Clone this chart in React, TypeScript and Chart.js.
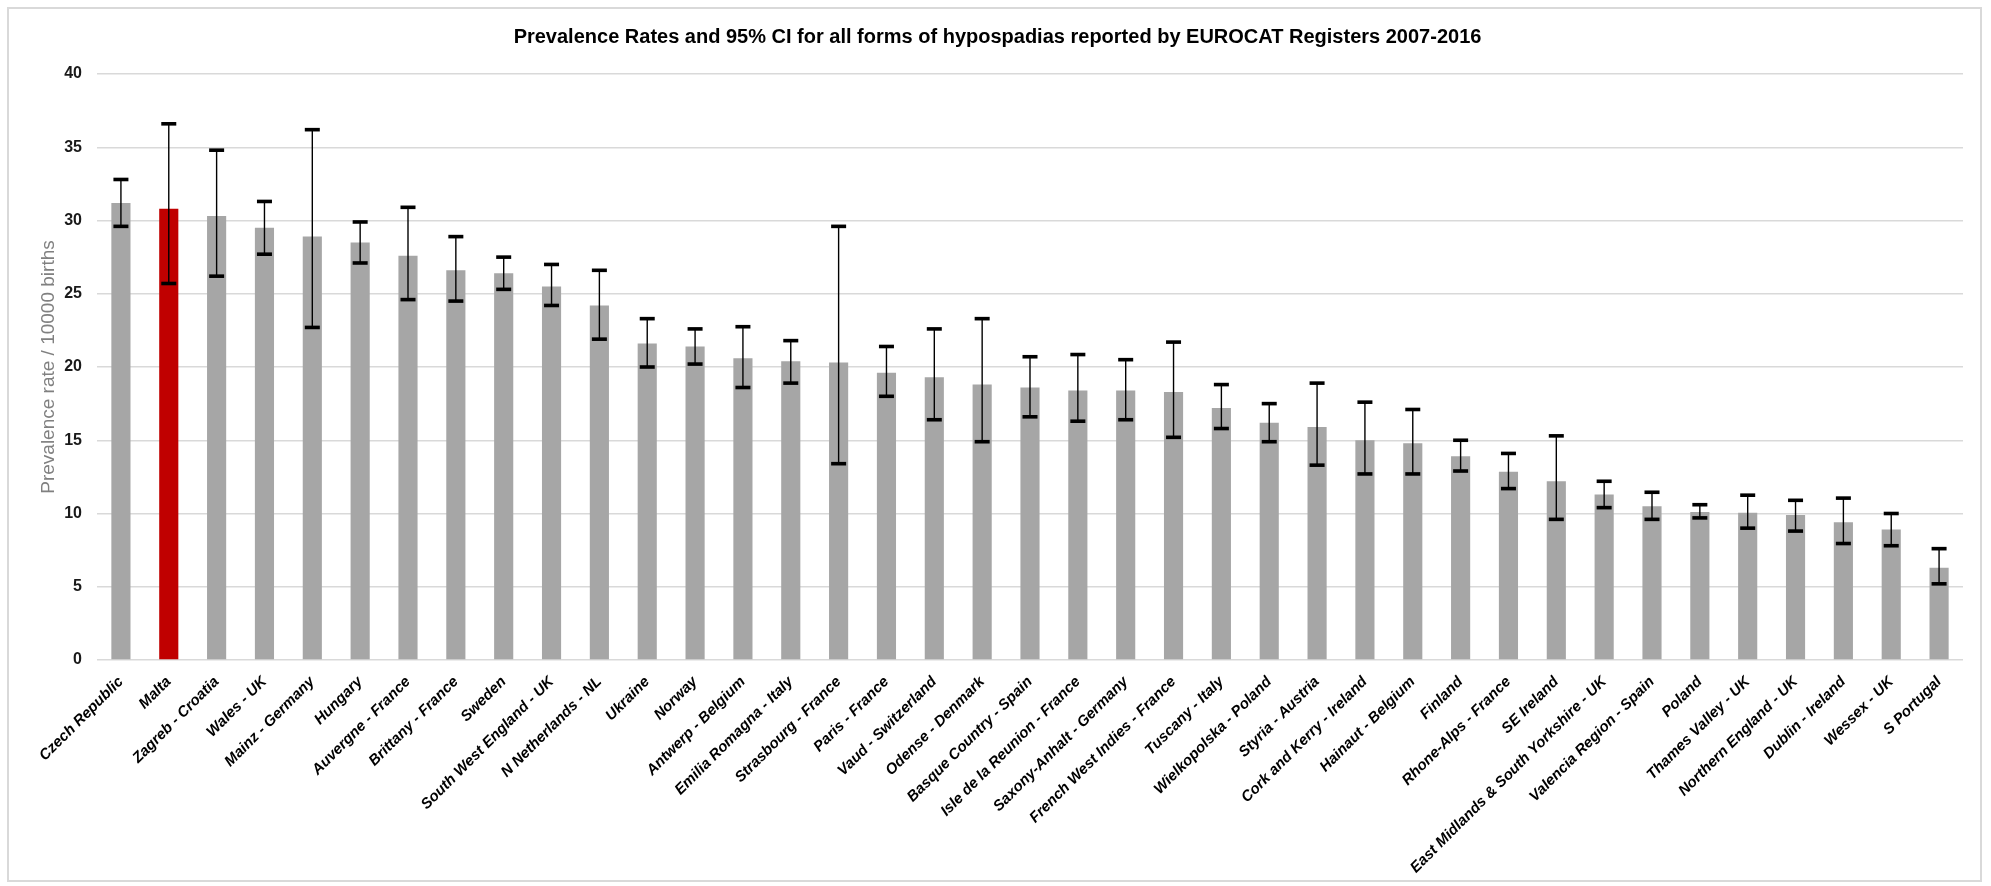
import React, { useEffect, useRef } from 'react';
import { Chart, registerables } from 'chart.js';

Chart.register(...registerables);

const chartTitle =
  'Prevalence Rates and 95% CI for all forms of hypospadias reported by EUROCAT Registers 2007-2016';
const yAxisTitle = 'Prevalence rate / 10000 births';

const categories = [
  'Czech Republic', 'Malta', 'Zagreb - Croatia', 'Wales - UK', 'Mainz - Germany', 'Hungary',
  'Auvergne - France', 'Brittany - France', 'Sweden', 'South West England - UK', 'N Netherlands - NL',
  'Ukraine', 'Norway', 'Antwerp - Belgium', 'Emilia Romagna - Italy', 'Strasbourg - France',
  'Paris - France', 'Vaud - Switzerland', 'Odense - Denmark', 'Basque Country - Spain',
  'Isle de la Reunion - France', 'Saxony-Anhalt - Germany', 'French West Indies - France',
  'Tuscany - Italy', 'Wielkopolska - Poland', 'Styria - Austria', 'Cork and Kerry - Ireland',
  'Hainaut - Belgium', 'Finland', 'Rhone-Alps - France', 'SE Ireland',
  'East Midlands & South Yorkshire - UK', 'Valencia Region - Spain', 'Poland', 'Thames Valley - UK',
  'Northern England - UK', 'Dublin - Ireland', 'Wessex - UK', 'S Portugal',
];

const rates = [
  31.2, 30.8, 30.3, 29.5, 28.9, 28.5, 27.6, 26.6, 26.4, 25.5, 24.2,
  21.6, 21.4, 20.6, 20.4, 20.3, 19.6, 19.3, 18.8, 18.6, 18.4, 18.4, 18.3,
  17.2, 16.2, 15.9, 15.0, 14.8, 13.9, 12.85, 12.2, 11.3, 10.5, 10.1, 10.05,
  9.9, 9.4, 8.9, 6.3,
];

const ciLower = [
  29.6, 25.7, 26.2, 27.7, 22.7, 27.1, 24.6, 24.5, 25.3, 24.2, 21.9,
  20.0, 20.2, 18.6, 18.9, 13.4, 18.0, 16.4, 14.9, 16.6, 16.3, 16.4, 15.2,
  15.8, 14.9, 13.3, 12.7, 12.7, 12.9, 11.7, 9.6, 10.4, 9.6, 9.7, 9.0,
  8.8, 7.95, 7.8, 5.2,
];

const ciUpper = [
  32.8, 36.6, 34.8, 31.3, 36.2, 29.9, 30.9, 28.9, 27.5, 27.0, 26.6,
  23.3, 22.6, 22.75, 21.8, 29.6, 21.4, 22.6, 23.3, 20.7, 20.85, 20.5, 21.7,
  18.8, 17.5, 18.9, 17.6, 17.1, 15.0, 14.1, 15.3, 12.2, 11.45, 10.6, 11.25,
  10.9, 11.05, 10.0, 7.6,
];

const highlighted = ['Malta'];

const FONT = "'Liberation Sans', Arial, sans-serif";

const framePlugin = {
  id: 'frame',
  beforeDraw(chart: any) {
    const { ctx, width, height } = chart;
    ctx.save();
    ctx.fillStyle = '#ffffff';
    ctx.fillRect(0, 0, width, height);
    ctx.strokeStyle = '#d9d9d9';
    ctx.lineWidth = 2;
    ctx.strokeRect(8, 8, 1973, 873);
    ctx.restore();
  },
};

const errorBarPlugin = {
  id: 'errorBars',
  afterDatasetsDraw(chart: any) {
    const { ctx } = chart;
    const x = chart.scales.x;
    const y = chart.scales.y;
    ctx.save();
    categories.forEach((_, i) => {
      const cx = x.getPixelForValue(i);
      const yl = y.getPixelForValue(ciLower[i]);
      const yh = y.getPixelForValue(ciUpper[i]);
      ctx.strokeStyle = '#000000';
      ctx.lineWidth = 1.4;
      ctx.beginPath();
      ctx.moveTo(cx, yl);
      ctx.lineTo(cx, yh);
      ctx.stroke();
      ctx.fillStyle = '#000000';
      ctx.fillRect(cx - 7.5, yh - 1.8, 15, 3.6);
      ctx.fillRect(cx - 7.5, yl - 1.8, 15, 3.6);
    });
    ctx.restore();
  },
};

export default function App() {
  const ref = useRef<HTMLCanvasElement | null>(null);

  useEffect(() => {
    if (!ref.current) return;
    const chart = new Chart(ref.current, {
      type: 'bar',
      data: {
        labels: categories,
        datasets: [
          {
            data: rates,
            backgroundColor: categories.map((c) => (highlighted.includes(c) ? '#c00000' : '#a6a6a6')),
            borderWidth: 0,
            barPercentage: 0.4,
            categoryPercentage: 1,
          },
        ],
      },
      options: {
        responsive: false,
        animation: false,
        layout: { padding: { left: 32, right: 28, top: 0, bottom: 0 } },
        plugins: {
          legend: { display: false },
          tooltip: { enabled: false },
          title: {
            display: true,
            text: chartTitle,
            color: '#000000',
            font: { family: FONT, size: 20, weight: 'bold' },
            padding: { top: 25, bottom: 25 },
          },
        },
        scales: {
          x: {
            grid: { display: false, drawTicks: false },
            border: { display: false },
            ticks: {
              autoSkip: false,
              minRotation: 45,
              maxRotation: 45,
              padding: 13,
              color: '#000000',
              font: { family: FONT, size: 15, weight: 'bold', style: 'italic' },
            },
            afterFit(axis: any) {
              axis.height = 226;
            },
          },
          y: {
            min: 0,
            max: 40,
            ticks: {
              stepSize: 5,
              padding: 15,
              color: '#1a1a1a',
              font: { family: FONT, size: 16, weight: 'bold' },
            },
            grid: { color: '#d9d9d9', lineWidth: 1.5, drawTicks: false },
            border: { display: false },
            title: {
              display: true,
              text: yAxisTitle,
              color: '#808080',
              font: { family: FONT, size: 19 },
              padding: { top: 5, bottom: 0 },
            },
            afterFit(axis: any) {
              axis.width = 65;
            },
          },
        },
      },
      plugins: [framePlugin, errorBarPlugin],
    });
    return () => chart.destroy();
  }, []);

  return (
    <div style={{ position: 'absolute', left: 0, top: 0, width: 1991, height: 886 }}>
      <canvas ref={ref} width={1991} height={886} style={{ width: 1991, height: 886 }} />
    </div>
  );
}
